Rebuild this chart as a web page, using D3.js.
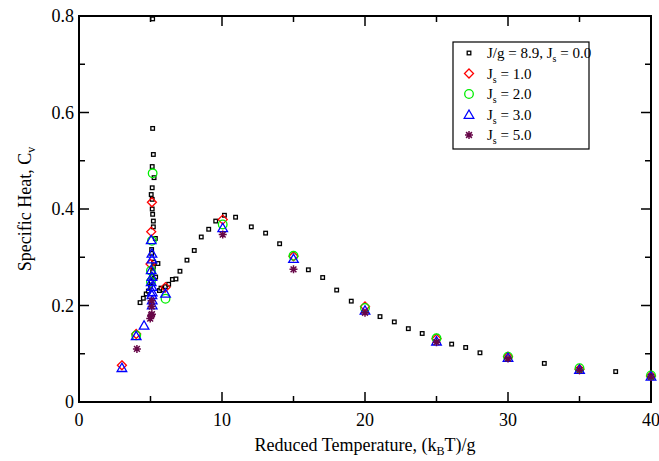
<!DOCTYPE html>
<html>
<head>
<meta charset="utf-8">
<script src="https://cdn.jsdelivr.net/npm/d3@7"></script>
<style>
  body { margin: 0; background: #fff; }
  svg text { font-family: "Liberation Serif", "Times New Roman", Times, serif; }
</style>
</head>
<body>
<div id="chart"></div>
<script>
// J/g = 8.9, Js = 0.0  (temperature, specific heat)
const tempJs0 = [4.27, 4.5, 4.7, 4.85, 5.0, 5.05, 5.1, 5.15, 5.2, 5.22, 5.08, 5.08, 5.34, 5.2, 5.2, 5.15, 5.12, 5.12, 5.05, 5.12, 5.25, 5.12, 5.2, 5.15, 5.15,
  5.52, 5.27, 5.36, 5.62, 5.73, 5.9, 6.04, 6.27, 6.53, 6.78, 7.06, 7.55, 8.06, 8.55, 9.07, 9.56, 10.17, 10.95, 12.05, 13.05, 14.03,
  16.04, 17.04, 18.02, 19.04, 21.05, 22.05, 23.03, 24.0, 26.06, 27.04, 28.04, 32.54, 37.53];
const cvJs0 = [0.206, 0.215, 0.224, 0.23, 0.24, 0.25, 0.26, 0.27, 0.28, 0.29, 0.308, 0.316, 0.339, 0.363, 0.375, 0.389, 0.40, 0.42, 0.43, 0.444, 0.465, 0.488, 0.513, 0.567, 0.794,
  0.287, 0.256, 0.259, 0.231, 0.236, 0.232, 0.239, 0.244, 0.254, 0.255, 0.271, 0.294, 0.314, 0.342, 0.358, 0.375, 0.387, 0.383, 0.363, 0.35, 0.328,
  0.274, 0.258, 0.232, 0.209, 0.177, 0.166, 0.152, 0.142, 0.12, 0.113, 0.102, 0.080, 0.063];

// Js = 1.0
const tempJs1 = [3.0, 4.0, 5.0, 5.05, 5.1, 6.05, 10.05, 15.0, 20.0, 25.0, 30.0, 35.0, 40.0];
const cvJs1 = [0.076, 0.141, 0.286, 0.353, 0.414, 0.238, 0.378, 0.302, 0.198, 0.131, 0.094, 0.068, 0.054];

// Js = 2.0
const tempJs2 = [4.0, 5.03, 5.03, 5.1, 5.15, 6.05, 10.05, 15.0, 20.0, 25.0, 30.0, 35.0, 40.0];
const cvJs2 = [0.138, 0.249, 0.272, 0.334, 0.474, 0.214, 0.368, 0.303, 0.195, 0.132, 0.094, 0.070, 0.055];

// Js = 3.0
const tempJs3 = [3.0, 4.0, 4.55, 5.05, 5.1, 5.1, 5.05, 5.1, 5.05, 5.1, 5.12, 5.1, 5.12, 5.12, 6.05, 10.05, 15.0, 20.0, 25.0, 30.0, 35.0, 40.0];
const cvJs3 = [0.071, 0.137, 0.159, 0.336, 0.308, 0.296, 0.274, 0.26, 0.249, 0.239, 0.228, 0.222, 0.211, 0.201, 0.225, 0.361, 0.297, 0.190, 0.126, 0.092, 0.067, 0.053];

// Js = 5.0
const tempJs5 = [4.05, 4.98, 5.05, 5.1, 5.08, 5.08, 10.05, 15.0, 20.0, 25.0, 30.0, 35.0, 40.0];
const cvJs5 = [0.110, 0.173, 0.180, 0.182, 0.198, 0.210, 0.347, 0.275, 0.185, 0.124, 0.090, 0.066, 0.052];

const xTicks = [0, 10, 20, 30, 40];
const yTicks = [0, 0.2, 0.4, 0.6, 0.8];

const width = 659, height = 461;
const margin = {left: 79, right: 8, top: 16, bottom: 59};

const x = d3.scaleLinear().domain([0, 40]).range([margin.left, width - margin.right]);
const y = d3.scaleLinear().domain([0, 0.8]).range([height - margin.bottom, margin.top]);

const svg = d3.select('#chart').append('svg')
  .attr('width', width).attr('height', height)
  .attr('font-family', '"Liberation Serif", "Times New Roman", serif');

const x0 = x(0), x1 = x(40), y0 = y(0), y1 = y(0.8);

// ticks on all four sides, pointing inward
const tickG = svg.append('g').attr('stroke', '#000').attr('stroke-width', 1.5);
d3.range(0, 41, 5).forEach(v => {
  const len = v % 10 === 0 ? 10 : 6;
  tickG.append('line').attr('x1', x(v)).attr('x2', x(v)).attr('y1', y0).attr('y2', y0 - len);
  tickG.append('line').attr('x1', x(v)).attr('x2', x(v)).attr('y1', y1).attr('y2', y1 + len);
});
d3.range(0, 9).forEach(i => {
  const v = i / 10;
  const len = i % 2 === 0 ? 10 : 6;
  tickG.append('line').attr('x1', x0).attr('x2', x0 + len).attr('y1', y(v)).attr('y2', y(v));
  tickG.append('line').attr('x1', x1).attr('x2', x1 - len).attr('y1', y(v)).attr('y2', y(v));
});

svg.append('rect')
  .attr('x', x0).attr('y', y1).attr('width', x1 - x0).attr('height', y0 - y1)
  .attr('fill', 'none').attr('stroke', '#000').attr('stroke-width', 2);

// tick labels
svg.append('g').selectAll('text').data(xTicks).join('text')
  .attr('x', d => x(d)).attr('y', y0 + 24)
  .attr('text-anchor', 'middle').attr('font-size', 18)
  .text(d => d);
svg.append('g').selectAll('text').data(yTicks).join('text')
  .attr('x', x0 - 5).attr('y', d => y(d) + 6)
  .attr('text-anchor', 'end').attr('font-size', 18)
  .text(d => d === 0 ? '0' : d3.format('.1f')(d));

// axis titles
const xt = svg.append('text')
  .attr('x', (x0 + x1) / 2).attr('y', 451)
  .attr('text-anchor', 'middle').attr('font-size', 18);
xt.append('tspan').text('Reduced Temperature, (k');
xt.append('tspan').attr('font-size', 12).attr('dy', 4).text('B');
xt.append('tspan').attr('dy', -4).text('T)/g');

const yt = svg.append('text')
  .attr('transform', `translate(31,${(y0 + y1) / 2}) rotate(-90)`)
  .attr('text-anchor', 'middle').attr('font-size', 18);
yt.append('tspan').text('Specific Heat, C');
yt.append('tspan').attr('font-size', 12).attr('dy', 4).text('v');

// marker shapes
const sq = g => g.append('rect').attr('x', -1.8).attr('y', -1.8).attr('width', 3.6).attr('height', 3.6)
  .attr('fill', '#fff').attr('stroke', '#000').attr('stroke-width', 1.3);
const diamond = g => g.append('path').attr('d', 'M0,-4.5L4.5,0L0,4.5L-4.5,0Z')
  .attr('fill', 'none').attr('stroke', '#ff0000').attr('stroke-width', 1.3);
const circ = g => g.append('circle').attr('r', 4.3)
  .attr('fill', 'none').attr('stroke', '#00ee00').attr('stroke-width', 1.3);
const tri = g => g.append('path').attr('d', d3.symbol(d3.symbolTriangle, 40)())
  .attr('transform', 'translate(0,1)')
  .attr('fill', 'none').attr('stroke', '#0000ff').attr('stroke-width', 1.3);
const star = g => g.append('path')
  .attr('d', 'M-4,0L4,0M0,-4L0,4M-2.9,-2.9L2.9,2.9M-2.9,2.9L2.9,-2.9')
  .attr('fill', 'none').attr('stroke', '#670748').attr('stroke-width', 1.5);

const series = [
  {t: tempJs0, c: cvJs0, draw: sq},
  {t: tempJs1, c: cvJs1, draw: diamond},
  {t: tempJs2, c: cvJs2, draw: circ},
  {t: tempJs3, c: cvJs3, draw: tri},
  {t: tempJs5, c: cvJs5, draw: star}
];

series.forEach(s => {
  const pts = s.t.map((t, i) => ({t: t, c: s.c[i]}));
  svg.append('g').selectAll('g').data(pts).join('g')
    .attr('transform', d => `translate(${x(d.t)},${y(d.c)})`)
    .each(function () { s.draw(d3.select(this)); });
});

// legend
const legendLabels = [['J/g = 8.9, J', 's', ' = 0.0'], ['J', 's', ' = 1.0'], ['J', 's', ' = 2.0'], ['J', 's', ' = 3.0'], ['J', 's', ' = 5.0']];
const lg = svg.append('g');
lg.append('rect').attr('x', 453).attr('y', 42).attr('width', 136).attr('height', 107)
  .attr('fill', '#fff').attr('stroke', '#000').attr('stroke-width', 1.2);
legendLabels.forEach((lab, i) => {
  const cy = 53 + i * 20.5;
  const g = lg.append('g').attr('transform', `translate(469,${cy})`);
  series[i].draw(g);
  const t = lg.append('text').attr('x', 487).attr('y', cy + 5).attr('font-size', 15);
  t.append('tspan').text(lab[0]);
  t.append('tspan').attr('font-size', 10).attr('dy', 4).text(lab[1]);
  t.append('tspan').attr('dy', -4).text(lab[2]);
});
</script>
</body>
</html>
